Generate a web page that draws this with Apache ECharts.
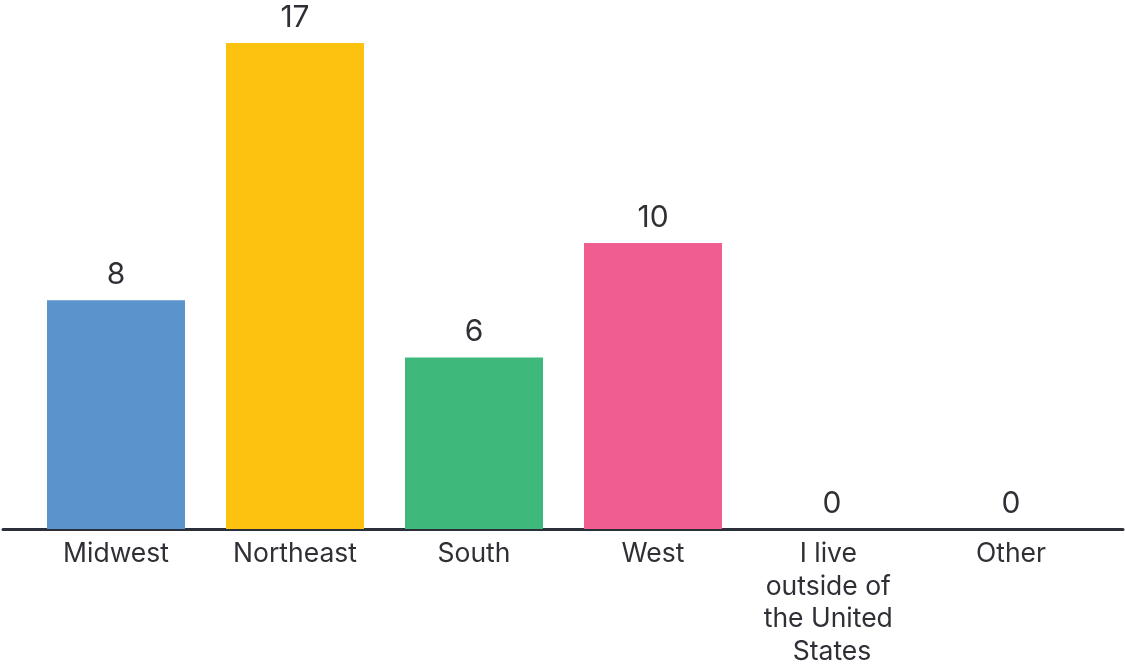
<!DOCTYPE html>
<html>
<head>
<meta charset="utf-8">
<script src="https://cdn.jsdelivr.net/npm/echarts@6/dist/echarts.min.js"></script>
<style>
html,body{margin:0;padding:0;background:#fff;}
#chart{width:1125px;height:664px;}
</style>
</head>
<body>
<div id="chart"></div>
<script>
const categories = ["Midwest", "Northeast", "South", "West", "I live outside of the United States", "Other"];
const values = [8, 17, 6, 10, 0, 0];
const barColors = ["#5b93cd", "#fdc20f", "#3fb97b", "#ef5d91", "#999999", "#999999"];

const chart = echarts.init(document.getElementById('chart'));
const font = 'Inter, "Noto Sans", sans-serif';
chart.setOption({
  animation: false,
  grid: [
    { left: 3, right: 2, top: 43, bottom: 135, outerBoundsMode: 'none', containLabel: false },
    { left: 26.5, right: 24.5, top: 43, bottom: 135, outerBoundsMode: 'none', containLabel: false }
  ],
  xAxis: [
    { gridIndex: 0, type: 'category', data: [''], axisLine: { show: true, lineStyle: { color: '#2b2f3a', width: 3 } }, axisTick: { show: false }, axisLabel: { show: false } },
    { gridIndex: 1, type: 'category', data: categories, axisLine: { show: false }, axisTick: { show: false },
      axisLabel: { interval: 0, margin: 9, color: '#2f3036', fontSize: 26.5, fontFamily: font, lineHeight: 32.5, width: 145, overflow: 'break', align: 'center' } }
  ],
  yAxis: [
    { gridIndex: 0, type: 'value', min: 0, max: 17, show: false },
    { gridIndex: 1, type: 'value', min: 0, max: 17, show: false }
  ],
  series: [{
    type: 'bar',
    xAxisIndex: 1,
    yAxisIndex: 1,
    data: values.map((v, i) => ({ value: v, itemStyle: { color: barColors[i] } })),
    barWidth: 138,
    label: { show: true, position: 'top', distance: 10, color: '#2f3036', fontSize: 30, fontFamily: font }
  }]
});
</script>
</body>
</html>
